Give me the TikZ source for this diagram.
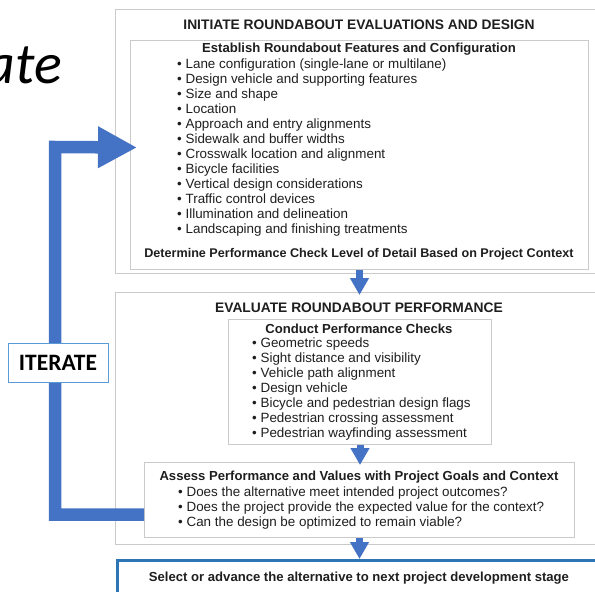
\documentclass[tikz,border=0pt]{standalone}
\usepackage{fontspec}
\setmainfont{Liberation Sans}
\newfontfamily\calib{Carlito}
\usetikzlibrary{arrows.meta,calc}
\definecolor{arrblue}{HTML}{4472C4}
\definecolor{boxgrey}{HTML}{CACACA}
\definecolor{txt}{HTML}{1E1E1E}
\definecolor{selblue}{HTML}{2E75B6}
\definecolor{iterblue}{HTML}{5B9BD5}
\begin{document}
\begin{tikzpicture}[x=1pt,y=-1pt,
  box/.style={draw=boxgrey, line width=1pt, inner sep=0, anchor=north west},
  tx/.style={inner sep=0, text=txt, font=\fontsize{13.4}{15}\selectfont},
  hd/.style={inner sep=0, text=txt, font=\bfseries\fontsize{13.8}{15}\selectfont, anchor=base},
  sh/.style={hd, font=\bfseries\fontsize{13.1}{15}\selectfont},
  smallarrow/.style={draw=arrblue, line width=7pt, -{Triangle[width=18pt,length=17pt]}},
  bigarrow/.style={draw=arrblue, line width=12.5pt, line join=miter, -{Triangle[width=39pt,length=39pt]}}]
\useasboundingbox (0,0) rectangle (595,592);
% boxes
\node[box, minimum width=490pt, minimum height=264pt] (box1) at (115,9) {};
\node[box, minimum width=458pt, minimum height=229pt] (inner1) at (130,40) {};
\node[box, minimum width=490pt, minimum height=252pt] (box2) at (115,292) {};
\node[box, minimum width=263pt, minimum height=125pt] (conduct) at (228,319) {};
\node[box, minimum width=430pt, minimum height=75pt] (assess) at (144,462) {};
\node[box, draw=selblue, line width=2.5pt, minimum width=500pt, minimum height=60pt] (final) at (116,559) {};
% texts box 1
\node[hd] (t1) at (359,29) {INITIATE ROUNDABOUT EVALUATIONS AND DESIGN};
\node[sh] (t1b) at (359,52) {Establish Roundabout Features and Configuration};
\foreach \t [count=\i from 0] in {Lane configuration (single-lane or multilane),Design vehicle and supporting features,Size and shape,Location,Approach and entry alignments,Sidewalk and buffer widths,Crosswalk location and alignment,Bicycle facilities,Vertical design considerations,Traffic control devices,Illumination and delineation,Landscaping and finishing treatments}
  \node[tx, anchor=base west] (ba\i) at (177,68+15*\i) {\textbullet\ \t};
\node[hd, font=\bfseries\fontsize{12.6}{15}\selectfont] (t1c) at (359,257) {Determine Performance Check Level of Detail Based on Project Context};
% texts box 2
\node[hd] (t2) at (359,312) {EVALUATE ROUNDABOUT PERFORMANCE};
\node[sh] (t2b) at (359,333) {Conduct Performance Checks};
\foreach \t [count=\i from 0] in {Geometric speeds,Sight distance and visibility,Vehicle path alignment,Design vehicle,Bicycle and pedestrian design flags,Pedestrian crossing assessment,Pedestrian wayfinding assessment}
  \node[tx, anchor=base west] (bb\i) at (252,347+15*\i) {\textbullet\ \t};
\node[sh] (t3) at (359,480) {Assess Performance and Values with Project Goals and Context};
\foreach \t [count=\i from 0] in {Does the alternative meet intended project outcomes?,Does the project provide the expected value for the context?,Can the design be optimized to remain viable?}
  \node[tx, anchor=base west] (bc\i) at (178,496+15*\i) {\textbullet\ \t};
\node[sh] (t4) at (359,581) {Select or advance the alternative to next project development stage};
% small arrows
\draw[smallarrow] (inner1.south) -- ($(inner1.south |- box2.north)+(0,3)$);
\draw[smallarrow] (conduct.south) -- ($(conduct.south |- assess.north)+(0,3)$);
\draw[smallarrow] (assess.south) -- ($(assess.south |- final.north)+(0,0)$);
% iterate loop
\coordinate (corner) at (55,147);
\coordinate (tip) at ($(inner1.west)+(7,-7.5)$);
\draw[bigarrow] ($(assess.west)+(0,14.5)$) -| (corner) -- (tip);
\node[draw=iterblue, line width=0.8pt, fill=white, minimum width=100pt, minimum height=39pt, inner sep=0, font=\calib\bfseries\fontsize{23.5}{23.5}\selectfont] (iter) at (58,362.5) {ITERATE};
\node[inner sep=0, anchor=base east, font=\calib\itshape\fontsize{58}{58}\selectfont] (ate) at (62,83) {ate};
\end{tikzpicture}
\end{document}
